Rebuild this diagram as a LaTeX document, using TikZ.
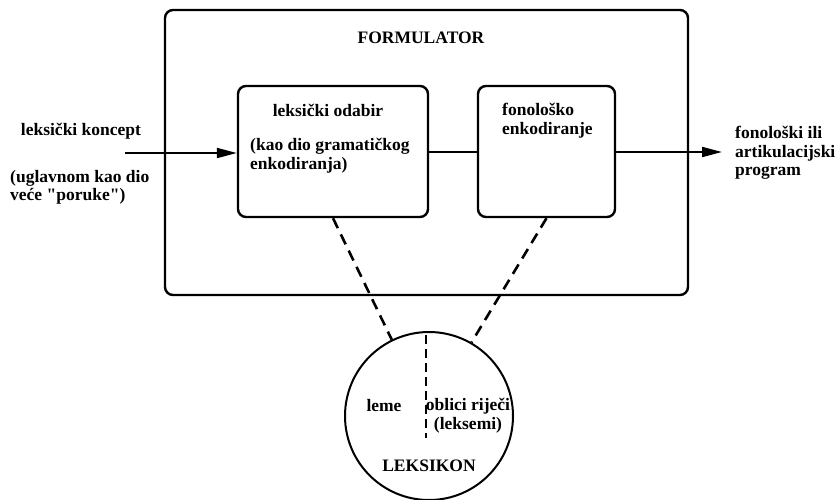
\documentclass[tikz,border=0pt]{standalone}
\usepackage{fontspec}
\setmainfont{Liberation Serif}
\usetikzlibrary{arrows.meta}
\begin{document}
\begin{tikzpicture}[x=1pt,y=-1pt,
  lbl/.style={font=\fontsize{17.5}{18.5}\selectfont\bfseries, inner sep=0pt},
  box/.style={draw, line width=2.4pt, rounded corners=8pt},
  conn/.style={line width=2pt},
  arr/.style={line width=2pt, -{Triangle[length=20pt,width=10pt]}},
  dashline/.style={line width=2.6pt, dash pattern=on 11pt off 7pt}
]
\useasboundingbox (0,0) rectangle (835,499);
% formulator
\draw[box] (165,10) rectangle (688,295);
\node[lbl] (formtitle) at (421,38) {FORMULATOR};
% inner boxes
\node[box, minimum width=190pt, minimum height=131pt, inner sep=0pt] (lex) at (333,151.5) {};
\node[box, minimum width=137pt, minimum height=131pt, inner sep=0pt] (phon) at (546.5,151.5) {};
\node[lbl] (lextitle) at (328,110) {leksički odabir};
\node[lbl, align=left, anchor=north west] (lexsub) at (250,138) {(kao dio gramatičkog\\enkodiranja)};
\node[lbl, align=left, anchor=north west] (phontext) at (502,103) {fonološko\\enkodiranje};
% left labels
\node[lbl] (konc) at (81,131) {leksički koncept};
\node[lbl, align=left, anchor=north west] (uglav) at (10,170) {(uglavnom kao dio\\veće \textquotedbl poruke\textquotedbl)};
\coordinate (inL) at (125,153);
\draw[arr] (inL) -- (lex.west |- inL);
% between boxes
\draw[conn] (lex.east |- 0,152) -- (phon.west |- 0,152);
% output
\coordinate (outR) at (722,152);
\draw[arr] (phon.east |- outR) -- (outR);
\node[lbl, align=left, anchor=north west] (outtext) at (735,126) {fonološki ili\\artikulacijski\\program};
% lexicon
\node[draw, circle, line width=2pt, minimum size=168pt, inner sep=0pt] (lexicon) at (429,416) {};
\draw[dashline] (lex.south) -- (lexicon.116);
\draw[dashline] (phon.south) -- (lexicon.60);
\coordinate (vtop) at (426,335);
\coordinate (vbot) at (426,438);
\draw[line width=1.8pt, dash pattern=on 9pt off 5pt] (vtop) -- (vbot);
\node[lbl] (leme) at (384,406) {leme};
\node[lbl] (oblici) at (468,406) {oblici riječi};
\node[lbl] (leks) at (468,425) {(leksemi)};
\node[lbl] (leksikon) at (429,466) {LEKSIKON};
\end{tikzpicture}
\end{document}
